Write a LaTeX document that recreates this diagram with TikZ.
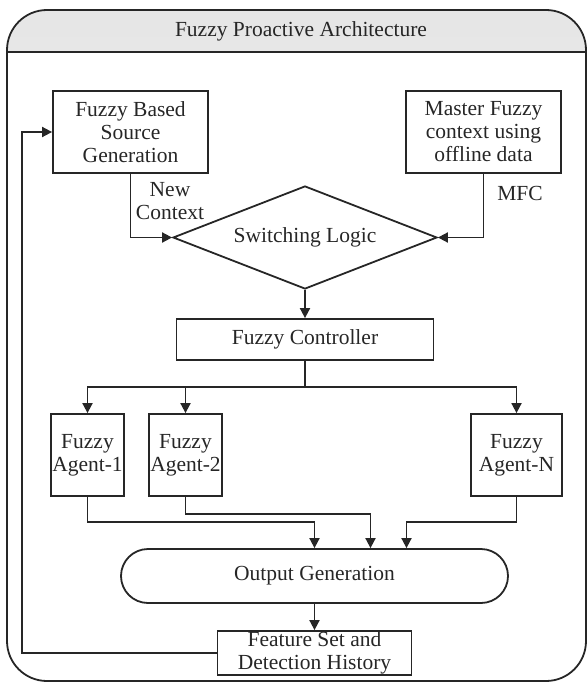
\documentclass[tikz,border=0pt]{standalone}
\usepackage{fontspec}
\setmainfont{Liberation Serif}
\usetikzlibrary{shapes.geometric,arrows.meta}
\begin{document}
\begin{tikzpicture}[x=1pt, y=-1pt,
            every node/.style={font=\fontsize{21.5}{23}\selectfont, text=black!85},
            box/.style={draw=black!85, line width=1.8pt, rectangle, inner sep=0pt, align=center},
            arr/.style={draw=black!85, line width=1.8pt, -{Triangle[length=10pt,width=10pt]}},
            link/.style={draw=black!85, line width=1.8pt}]
            \useasboundingbox (0,0) rectangle (587,682);
            \begin{scope}
                \clip (7,10) rectangle (586,52);
                \shade[top color=black!10, bottom color=white, rounded corners=40pt] (7,10) rectangle (586,681);
            \end{scope}
            \draw[link, rounded corners=40pt] (7,10) rectangle (586,681);
            \draw[link] (7,52) -- (586,52);
            \node (title) at (301,31) {Fuzzy Proactive Architecture};

            \node[box, minimum width=155pt, minimum height=82pt] (fbsg) at (130.5,132) {Fuzzy Based\\Source\\Generation};
            \node[box, minimum width=155pt, minimum height=82pt] (master) at (483.5,132) {Master Fuzzy\\context using\\offline data};
            \node[draw=black!85, line width=1.8pt, diamond, aspect=2.56, inner sep=0pt, minimum width=264pt, minimum height=103pt] (switch) at (305,237.5) {Switching Logic};
            \node[box, minimum width=257pt, minimum height=41pt] (ctrl) at (305,339.5) {Fuzzy Controller};
            \node[box, minimum width=73pt, minimum height=82pt] (agent1) at (87.5,455) {Fuzzy\\Agent-1};
            \node[box, minimum width=73pt, minimum height=82pt] (agent2) at (185.5,455) {Fuzzy\\Agent-2};
            \node[box, minimum width=91pt, minimum height=82pt] (agentN) at (516.5,455) {Fuzzy\\Agent-N};
            \node[box, rounded corners=27pt, minimum width=387pt, minimum height=54pt] (out) at (314.5,576) {Output Generation};
            \node[box, minimum width=194pt, minimum height=44pt] (feat) at (314.5,653) {Feature Set and\\Detection History};

            \node[align=center] (newctx) at (170,201) {New\\Context};
            \node (mfc) at (520,193) {MFC};

            \draw[arr] (fbsg.south) |- (switch.west);
            \draw[arr] (master.south) |- (switch.east);
            \draw[arr] (switch.south) -- (ctrl.north);
            \draw[arr] (ctrl.south) -- ++(0,26) -| (agent1.north);
            \draw[arr] (ctrl.south) -- ++(0,26) -| (agent2.north);
            \draw[arr] (ctrl.south) -- ++(0,26) -| (agentN.north);
            \draw[arr] (agent1.south) -- ++(0,25) -| (out.north);
            \draw[arr] (agent2.south) -- ++(0,17) -| ([xshift=56pt]out.north);
            \draw[arr] (agentN.south) -- ++(0,25) -| ([xshift=92pt]out.north);
            \draw[arr] (out.south) -- (feat.north);
            \draw[arr] (feat.west) -- ++(-195,0) |- (fbsg.west);
\end{tikzpicture}
\end{document}
